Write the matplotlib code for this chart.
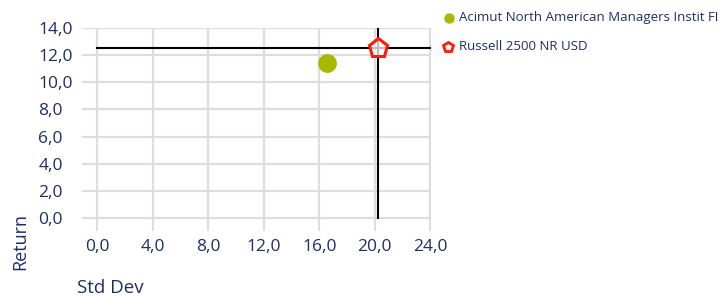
import matplotlib
matplotlib.use("Agg")
import matplotlib.pyplot as plt
from matplotlib.ticker import FuncFormatter

# risk / return points
names = ["Acimut North American Managers Instit FI", "Russell 2500 NR USD"]
std_dev = [16.55, 20.2]
returns = [11.4, 12.5]

x_ticks = [0, 4, 8, 12, 16, 20, 24]
y_ticks = [0, 2, 4, 6, 8, 10, 12, 14]

navy = "#1f2d66"
green = "#a6b800"
red = "#ff1a0a"

plt.rcParams["font.family"] = ["Open Sans", "DejaVu Sans"]

fig = plt.figure(figsize=(7.22, 2.99), dpi=100)
ax = fig.add_axes([0.1136, 0.2274, 0.4834, 0.679])

ax.set_xlim(-1.1, 24.05)
ax.set_ylim(-0.96, 14.0)
ax.set_xticks(x_ticks)
ax.set_yticks(y_ticks)
fmt = FuncFormatter(lambda v, p: f"{v:.1f}".replace(".", ","))
ax.xaxis.set_major_formatter(fmt)
ax.yaxis.set_major_formatter(fmt)
ax.grid(True, color="#dddddd", linewidth=1.6)
ax.set_axisbelow(True)
for s in ax.spines.values():
    s.set_visible(False)
ax.tick_params(length=0, labelsize=12.5, labelcolor=navy)
ax.tick_params(axis="x", pad=6)
ax.tick_params(axis="y", pad=31.5)
for lbl in ax.get_yticklabels():
    lbl.set_horizontalalignment("left")

# benchmark crosshair
ax.plot([0, 24], [returns[1], returns[1]], color="black", linewidth=1.5, zorder=2)
ax.plot([std_dev[1], std_dev[1]], [0, 14], color="black", linewidth=1.5, zorder=2)

ax.plot(std_dev[0], returns[0], "o", color=green, markersize=12.5, zorder=3, clip_on=False,
        label=names[0])
ax.plot(std_dev[1], returns[1], "p", markerfacecolor=(1, 1, 1, 0.75), markeredgecolor=red,
        markeredgewidth=2.2, markersize=14, zorder=4, clip_on=False, label=names[1])

fig.text(0.107, 0.02, "Std Dev", fontsize=13.5, color=navy, ha="left", va="baseline")
fig.text(0.016, 0.097, "Return", rotation=90, fontsize=13, color=navy, ha="left", va="bottom")

# legend drawn by hand
fig.lines.append(plt.Line2D([0.622], [0.94], marker="o", color=green, markersize=6.5,
                            transform=fig.transFigure))
fig.lines.append(plt.Line2D([0.621], [0.843], marker="p", markerfacecolor="white",
                            markeredgecolor=red, markeredgewidth=2, markersize=7,
                            transform=fig.transFigure))
fig.text(0.636, 0.94, names[0], fontsize=9.5, color=navy, va="center", ha="left")
fig.text(0.636, 0.843, names[1], fontsize=9.5, color=navy, va="center", ha="left")

fig.savefig("out.png", dpi=100)
